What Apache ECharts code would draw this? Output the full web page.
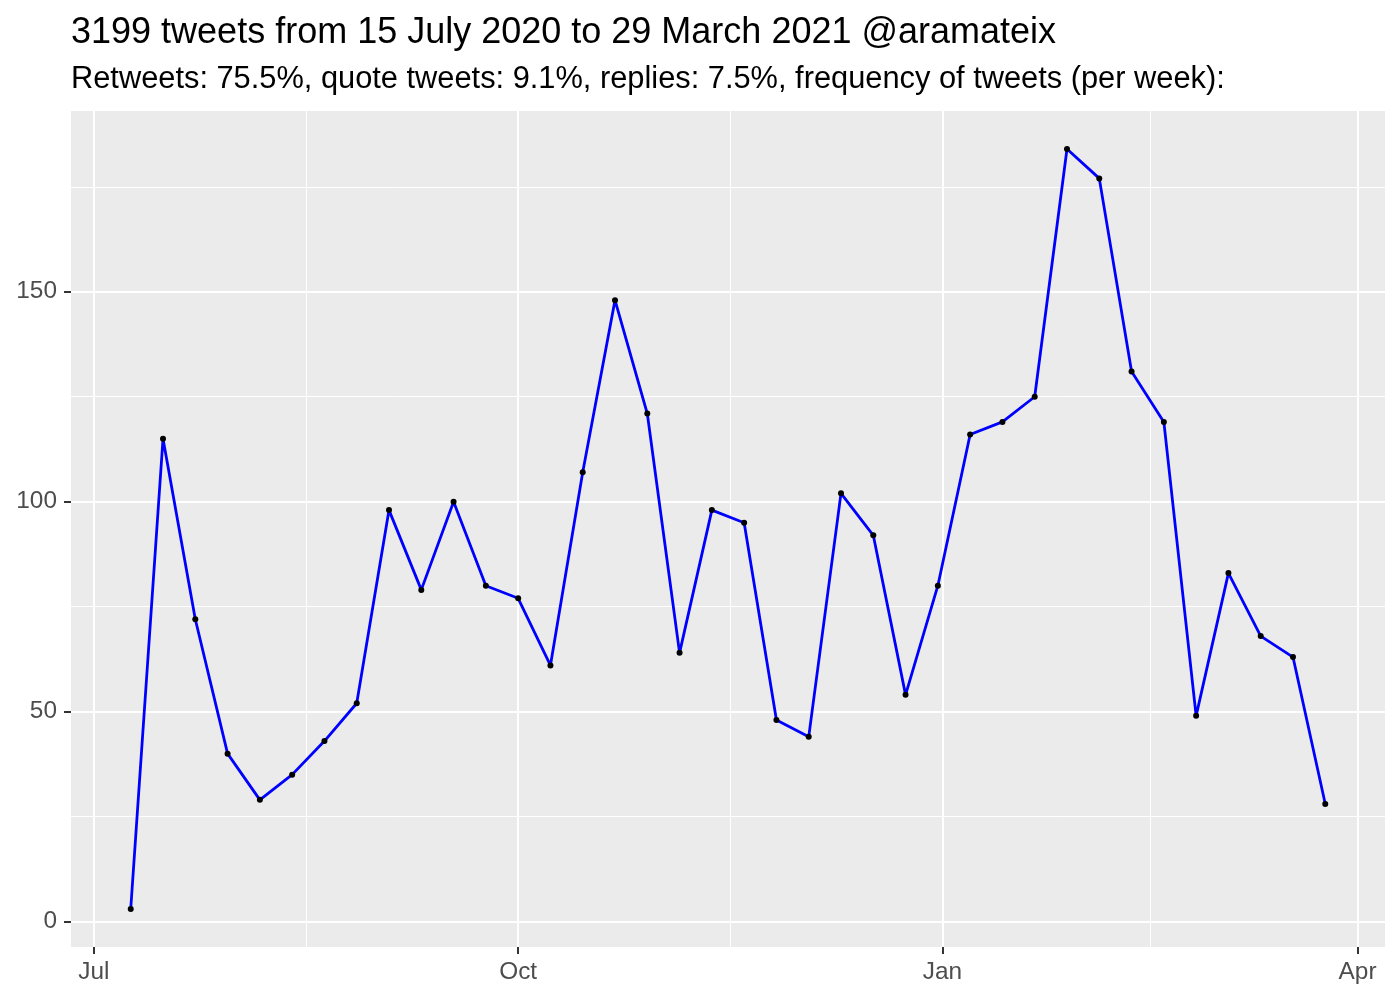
<!DOCTYPE html>
<html>
<head>
<meta charset="utf-8">
<script src="https://cdn.jsdelivr.net/npm/echarts@6/dist/echarts.min.js"></script>
<style>
  html, body { margin: 0; padding: 0; background: #fff; }
  #main { width: 1400px; height: 1000px; }
</style>
</head>
<body>
<div id="main"></div>
<script>
// weekly bins (Thursdays)
var weeks = [
  "2020-07-09", "2020-07-16", "2020-07-23", "2020-07-30",
  "2020-08-06", "2020-08-13", "2020-08-20", "2020-08-27",
  "2020-09-03", "2020-09-10", "2020-09-17", "2020-09-24",
  "2020-10-01", "2020-10-08", "2020-10-15", "2020-10-22", "2020-10-29",
  "2020-11-05", "2020-11-12", "2020-11-19", "2020-11-26",
  "2020-12-03", "2020-12-10", "2020-12-17", "2020-12-24", "2020-12-31",
  "2021-01-07", "2021-01-14", "2021-01-21", "2021-01-28",
  "2021-02-04", "2021-02-11", "2021-02-18", "2021-02-25",
  "2021-03-04", "2021-03-11", "2021-03-18", "2021-03-25"
];
var tweets = [
  3, 115, 72, 40,
  29, 35, 43, 52,
  98, 79, 100, 80,
  77, 61, 107, 148, 121,
  64, 98, 95, 48,
  44, 102, 92, 54, 80,
  116, 119, 125, 184,
  177, 131, 119, 49,
  83, 68, 63, 28
];
var xBreaks = ["2020-07-01", "2020-10-01", "2021-01-01", "2021-04-01"];
var xMinorBreaks = ["2020-08-16", "2020-11-16", "2021-02-15"];
var yBreaks = [0, 50, 100, 150];
var yMinorBreaks = [25, 75, 125, 175];
var monthNames = ["Jan", "Feb", "Mar", "Apr", "May", "Jun", "Jul", "Aug", "Sep", "Oct", "Nov", "Dec"];

var titleText = "3199 tweets from 15 July 2020 to 29 March 2021 @aramateix";
var subtitleText = "Retweets: 75.5%, quote tweets: 9.1%, replies: 7.5%, frequency of tweets (per week):";

var FONT = "Liberation Sans, Arial, Helvetica, sans-serif";

// dates as UTC milliseconds on a plain value axis
function toMs(s) { return Date.parse(s + "T00:00:00Z"); }

var xs = weeks.map(toMs);
var seriesData = xs.map(function (x, i) { return [x, tweets[i]]; });

// ggplot-style 5% expansion
var xRange = xs[xs.length - 1] - xs[0];
var xMin = xs[0] - 0.05 * xRange;
var xMax = xs[xs.length - 1] + 0.05 * xRange;
var yLo = Math.min.apply(null, tweets), yHi = Math.max.apply(null, tweets);
var yMin = yLo - 0.05 * (yHi - yLo);
var yMax = yHi + 0.05 * (yHi - yLo);

var chart = echarts.init(document.getElementById("main"), null, { renderer: "canvas" });

var option = {
  animation: false,
  backgroundColor: "#ffffff",
  title: [
    {
      text: titleText,
      left: 66,
      top: 10,
      textStyle: { fontFamily: FONT, fontSize: 36, fontWeight: "normal", color: "#000000" }
    },
    {
      text: subtitleText,
      left: 66,
      top: 59,
      textStyle: { fontFamily: FONT, fontSize: 30.8, fontWeight: "normal", color: "#000000" }
    }
  ],
  grid: {
    left: 71,
    right: 15,
    top: 111,
    bottom: 53,
    show: true,
    backgroundColor: "#EBEBEB",
    borderWidth: 0
  },
  xAxis: [
    {
      type: "value",
      min: xMin,
      max: xMax,
      position: "bottom",
      axisLine: { show: false, onZero: false },
      axisTick: {
        show: true,
        customValues: xBreaks.map(toMs),
        length: 7,
        lineStyle: { color: "#333333", width: 2 }
      },
      axisLabel: {
        show: true,
        customValues: xBreaks.map(toMs),
        margin: 13,
        fontFamily: FONT,
        fontSize: 24.4,
        color: "#4D4D4D",
        formatter: function (v) { return monthNames[new Date(v).getUTCMonth()]; }
      },
      splitLine: { show: true, lineStyle: { color: "#FFFFFF", width: 2 } }
    },
    {
      type: "value",
      min: xMin,
      max: xMax,
      position: "bottom",
      axisLine: { show: false, onZero: false },
      axisTick: { show: false, customValues: xMinorBreaks.map(toMs) },
      axisLabel: { show: false },
      splitLine: { show: true, lineStyle: { color: "#FFFFFF", width: 1 } }
    }
  ],
  yAxis: [
    {
      type: "value",
      min: yMin,
      max: yMax,
      position: "left",
      axisLine: { show: false, onZero: false },
      axisTick: {
        show: true,
        customValues: yBreaks,
        length: 7,
        lineStyle: { color: "#333333", width: 2 }
      },
      axisLabel: {
        show: true,
        customValues: yBreaks,
        margin: 14,
        fontFamily: FONT,
        fontSize: 24.4,
        color: "#4D4D4D"
      },
      splitLine: { show: true, lineStyle: { color: "#FFFFFF", width: 2 } }
    },
    {
      type: "value",
      min: yMin,
      max: yMax,
      position: "left",
      axisLine: { show: false, onZero: false },
      axisTick: { show: false, customValues: yMinorBreaks },
      axisLabel: { show: false },
      splitLine: { show: true, lineStyle: { color: "#FFFFFF", width: 1 } }
    }
  ],
  series: [
    {
      type: "line",
      xAxisIndex: 0,
      yAxisIndex: 0,
      data: seriesData,
      showSymbol: true,
      showAllSymbol: true,
      symbol: "circle",
      symbolSize: 6,
      itemStyle: { color: "#000000", borderWidth: 0 },
      lineStyle: { color: "#0000FF", width: 2.8 },
      z: 5
    }
  ]
};

chart.setOption(option);
</script>
</body>
</html>
